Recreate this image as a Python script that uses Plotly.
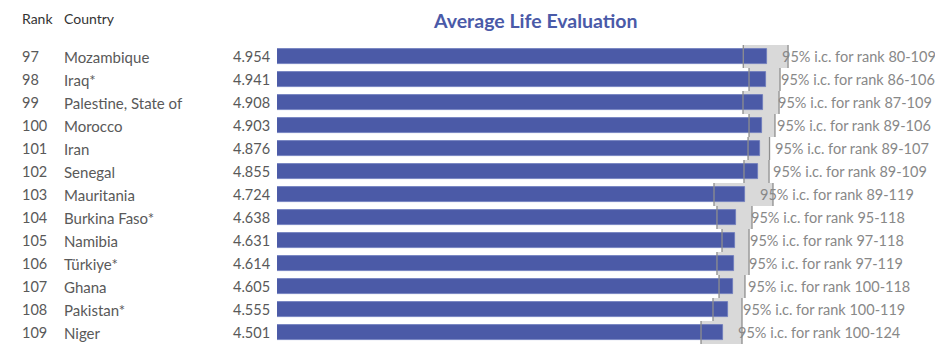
import plotly.graph_objects as go

ranks = [97, 98, 99, 100, 101, 102, 103, 104, 105, 106, 107, 108, 109]
countries = ["Mozambique", "Iraq*", "Palestine, State of", "Morocco", "Iran", "Senegal",
             "Mauritania", "Burkina Faso*", "Namibia", "Türkiye*", "Ghana", "Pakistan*", "Niger"]
scores = [4.954, 4.941, 4.908, 4.903, 4.876, 4.855, 4.724, 4.638, 4.631, 4.614, 4.605, 4.555, 4.501]
ci_low = [4.710, 4.768, 4.707, 4.768, 4.758, 4.717, 4.414, 4.444, 4.495, 4.444, 4.465, 4.404, 4.283]
ci_high = [5.162, 5.081, 5.071, 5.030, 4.975, 4.970, 5.010, 4.798, 4.768, 4.768, 4.727, 4.697, 4.697]
rank_ranges = ["80-109", "86-106", "87-109", "89-106", "89-107", "89-109", "89-119",
               "95-118", "97-118", "97-119", "100-118", "100-119", "100-124"]

FONT = "Lato"
OFF = 8  # page body margin
W, H = 943 - OFF, 356 - OFF
L, R, T, B = 277 - OFF, 0, 45 - OFF, 12
n = len(countries)
ys = list(range(n))

fig = go.Figure()

# CI grey band
fig.add_trace(go.Bar(
    y=ys, x=[h - l for l, h in zip(ci_low, ci_high)], base=ci_low,
    orientation="h", width=1.0, marker=dict(color="#d9d9d9", line=dict(width=0)),
    hoverinfo="skip", showlegend=False))

# Score bars
fig.add_trace(go.Bar(
    y=ys, x=scores, orientation="h", width=0.66,
    marker=dict(color="#4b5aa7", line=dict(color="#6b78bb", width=0.8)),
    showlegend=False))

# CI bound lines
lx, ly = [], []
for i, (l, h) in enumerate(zip(ci_low, ci_high)):
    for v in (l, h):
        lx += [v, v, None]
        ly += [i - 0.5, i + 0.5, None]
fig.add_trace(go.Scatter(x=lx, y=ly, mode="lines",
                         line=dict(color="#8e8e8e", width=1.3),
                         hoverinfo="skip", showlegend=False))

ann = []
pw = W - L - R
ph = H - T - B


def px(xpix):
    return (xpix - OFF - L) / pw


def py(ypix):
    return 1 - (ypix - OFF - T) / ph


for i in range(n):
    ann.append(dict(x=px(20), xref="paper", y=i, yref="y", text=str(ranks[i]),
                    xanchor="left", showarrow=False,
                    font=dict(family=FONT, size=14.5, color="#595959")))
    ann.append(dict(x=px(62), xref="paper", y=i, yref="y", text=countries[i],
                    xanchor="left", showarrow=False,
                    font=dict(family=FONT, size=15, color="#595959")))
    ann.append(dict(x=px(272), xref="paper", y=i, yref="y", text=f"{scores[i]:.3f}",
                    xanchor="right", showarrow=False,
                    font=dict(family=FONT, size=14.5, color="#595959")))
    ann.append(dict(x=scores[i], xref="x", y=i, yref="y",
                    text=f"95% i.c. for rank {rank_ranges[i]}",
                    xanchor="left", xshift=13, showarrow=False,
                    font=dict(family=FONT, size=14.5, color="#888888")))

ann.append(dict(x=px(20), xref="paper", y=py(18), yref="paper", text="Rank",
                xanchor="left", yanchor="middle", showarrow=False,
                font=dict(family=FONT, size=14, color="#333333")))
ann.append(dict(x=px(62), xref="paper", y=py(18), yref="paper", text="Country",
                xanchor="left", yanchor="middle", showarrow=False,
                font=dict(family=FONT, size=14, color="#333333")))
ann.append(dict(x=px(535), xref="paper", y=py(20), yref="paper",
                text="<b>Average Life Evaluation</b>",
                xanchor="center", yanchor="middle", showarrow=False,
                font=dict(family=FONT, size=19.5, color="#4a5aa8")))

fig.update_layout(
    width=W, height=H,
    margin=dict(l=L, r=R, t=T, b=B),
    paper_bgcolor="white", plot_bgcolor="white",
    barmode="overlay", bargap=0,
    xaxis=dict(range=[0, (W - L - R) / 99.0], showgrid=False, showticklabels=False,
               zeroline=False, showline=False, ticks=""),
    yaxis=dict(range=[n - 0.5, -0.5], showgrid=False, showticklabels=False,
               zeroline=False, showline=False, ticks=""),
    annotations=ann,
    font=dict(family=FONT),
)

fig.write_html("out.html")
